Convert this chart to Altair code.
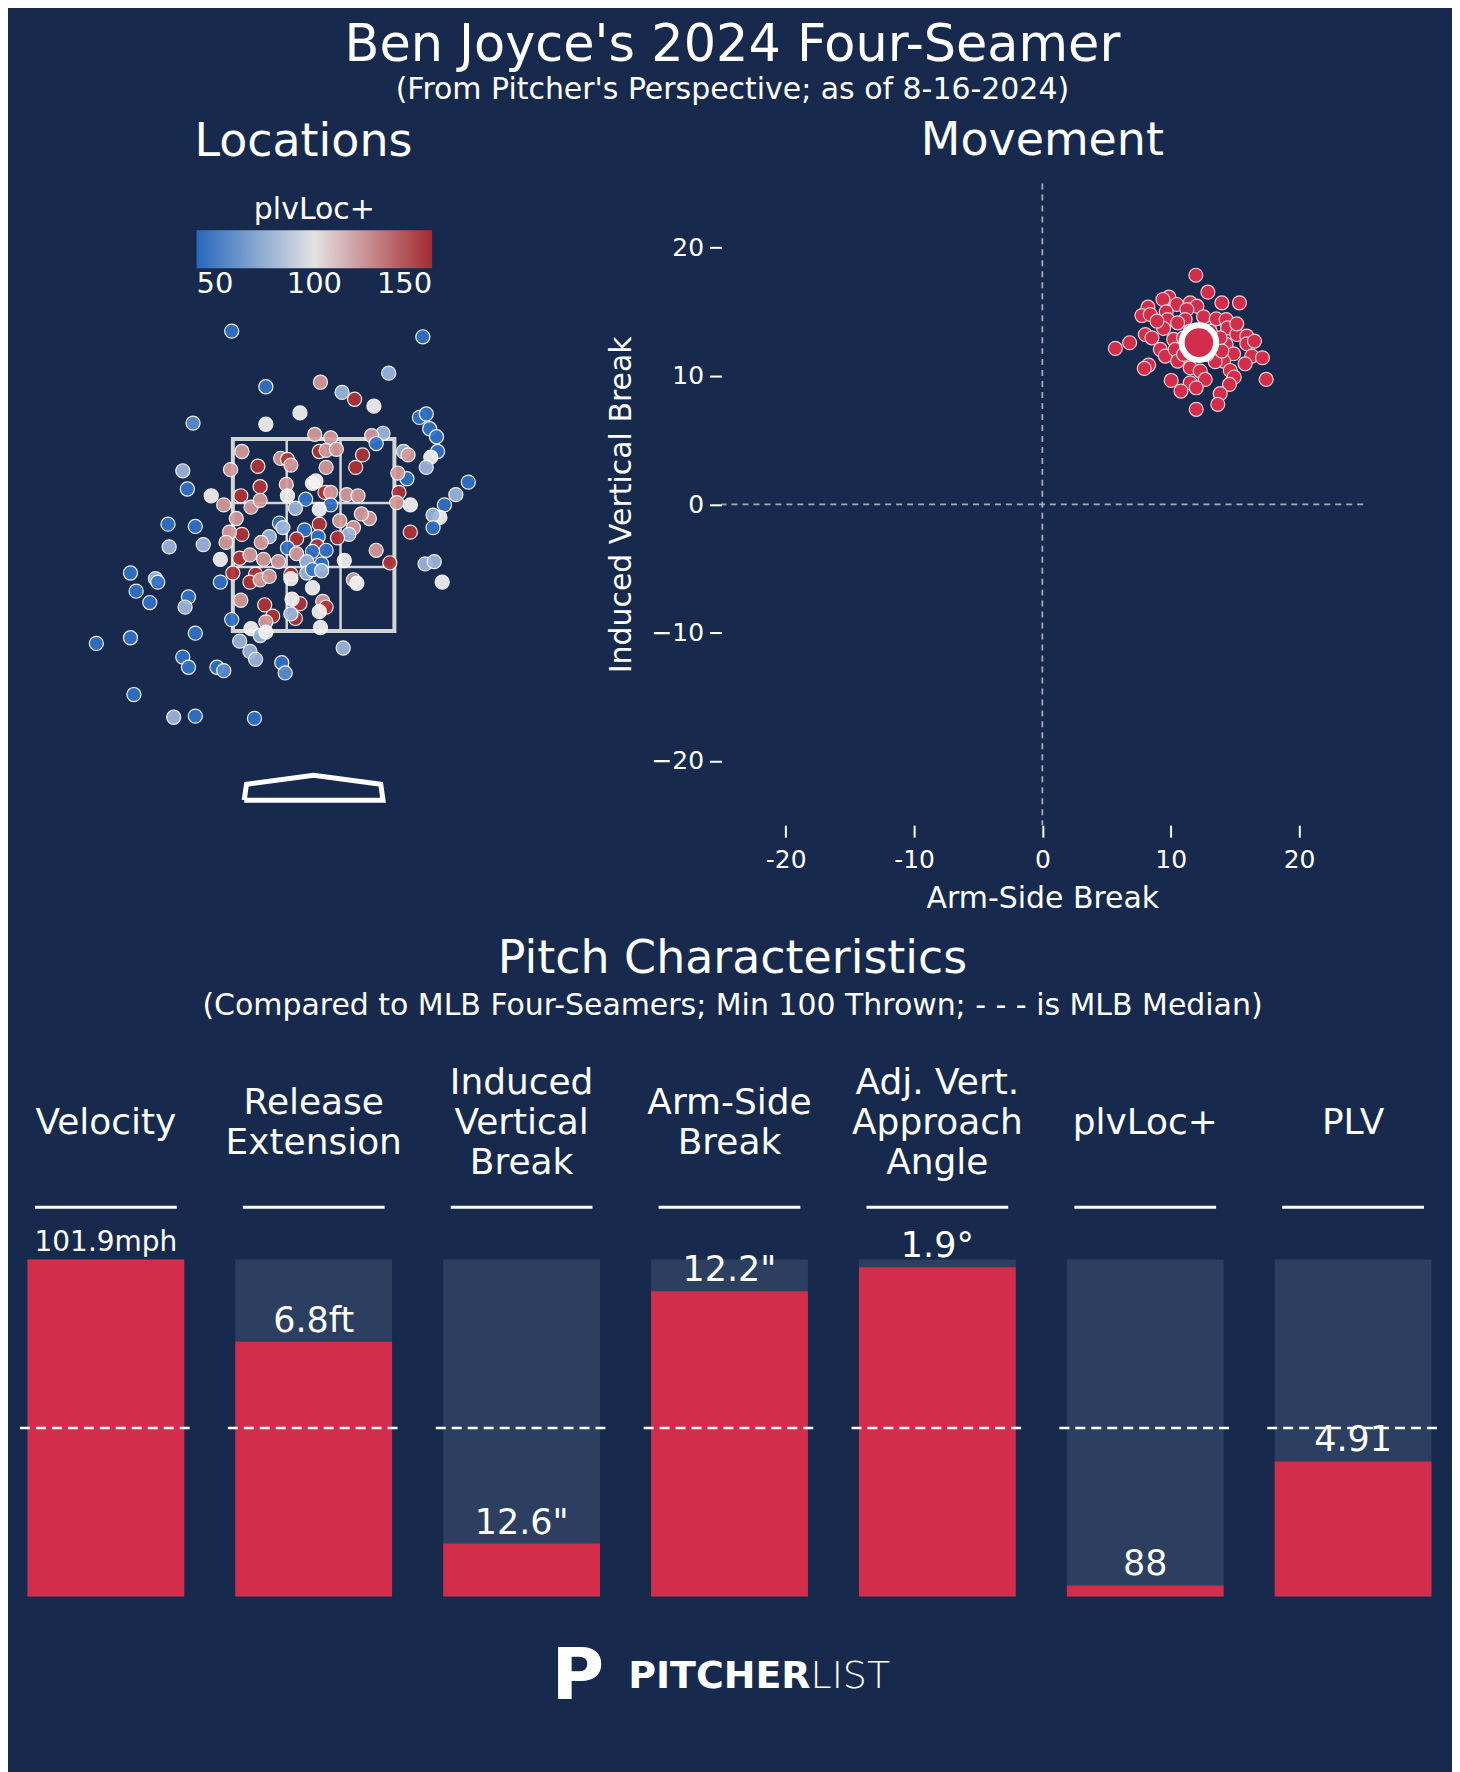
import altair as alt
import pandas as pd

BG = '#172a4e'
RED = '#d22e4b'
FONT = 'DejaVu Sans'

# --- Locations (plate_x, plate_z in ft, pitcher's view) and plvLoc+ ---
loc_x = [-0.72, 0.96, 0.66, -0.42, 0.06, 0.25, 0.36, 0.53, -0.12, -0.42, -1.06, 0.93, 0.99, 1.02, 1.08, 1.09,
         1.03, 0.99, 0.79, 0.83, 0.82, 0.74, 0.61, 0.51, 0.55, 0.01, 0.15, 0.05, 0.11, 0.20, 0.43, 0.37, 0.11,
         -0.63, -0.49, -0.73, -0.29, -0.23, -0.20, -0.47, -0.24, -0.01, 0.02, 0.10, 0.15, 0.29, 0.39, 0.75, 0.73,
         0.85, -0.07, 0.15, 0.05, -0.16, -0.23, -0.64, -0.55, -0.47, -0.79, -0.90, -1.15, -1.11, 1.36, 1.25, 1.15,
         1.11, 1.05, 1.05, 0.85, 0.49, 0.42, 0.23, 0.35, 0.31, 0.05, -0.08, 0.04, -0.15, -0.30, -0.27, -0.39,
         -0.46, -0.63, -0.68, -0.74, -0.77, -1.28, -1.04, -1.27, -0.97, 0.21, 0.03, 0.11, -0.01, -0.23, -0.15,
         -0.06, 0.07, 0.27, 0.55, 0.67, 0.98, 1.06, 1.13, 0.35, 0.38, -0.65, -0.82, -0.56, -0.44, -0.31, -0.71,
         -0.51, -0.56, -0.47, -0.39, -0.20, -0.20, -0.06, -0.01, 0.07, -0.01, -1.61, -1.39, -1.37, -1.56, -1.44,
         -1.10, -1.13, -0.82, -0.64, -0.43, -0.36, -0.12, -0.19, 0.08, 0.11, 0.05, -0.16, -0.20, -0.42, -0.72,
         -0.55, -0.47, -0.42, 0.06, -1.61, -1.04, -1.91, -0.65, 0.26, -0.56, -0.51, -1.15, -1.10, -0.85, -0.79,
         -0.28, -0.25, -1.58, -1.23, -1.04, -0.52]
loc_z = [4.45, 4.40, 4.08, 3.96, 4.00, 3.91, 3.85, 3.79, 3.73, 3.63, 3.64, 3.69, 3.72, 3.59, 3.52, 3.39,
         3.34, 3.25, 3.39, 3.36, 3.15, 3.20, 3.55, 3.53, 3.46, 3.54, 3.51, 3.39, 3.40, 3.41, 3.36, 3.25, 3.25,
         3.39, 3.26, 3.23, 3.33, 3.32, 3.27, 3.08, 3.10, 3.11, 3.13, 3.03, 3.03, 3.01, 3.00, 3.03, 2.94,
         2.92, 2.97, 2.92, 2.88, 2.89, 3.00, 3.00, 2.90, 2.96, 2.92, 3.00, 3.22, 3.06, 3.12, 3.01, 2.92,
         2.81, 2.83, 2.72, 2.68, 2.80, 2.84, 2.78, 2.72, 2.66, 2.75, 2.70, 2.64, 2.62, 2.76, 2.72, 2.64,
         2.59, 2.66, 2.80, 2.68, 2.59, 2.75, 2.73, 2.55, 2.57, 2.63, 2.56, 2.52, 2.51, 2.54, 2.49,
         2.42, 2.40, 2.43, 2.52, 2.41, 2.40, 2.42, 2.24, 2.26, 2.23, 2.45, 2.44, 2.48, 2.44, 2.42, 2.32,
         2.31, 2.24, 2.26, 2.29, 2.31, 2.27, 2.32, 2.35, 2.34, 2.19, 2.32, 2.27, 2.24, 2.16, 2.06,
         2.11, 2.02, 2.24, 2.08, 2.04, 1.94, 2.05, 2.09, 2.07, 2.02, 1.98, 1.92, 1.96, 1.89, 1.91,
         1.83, 1.77, 1.80, 1.84, 1.75, 1.79, 1.70, 1.72, 1.66, 1.63, 1.56, 1.58, 1.49, 1.49, 1.46,
         1.53, 1.44, 1.25, 1.05, 1.06, 1.04]
loc_code = 'BBLBPLRWWWbBBBBBWLLPBPLPBPPRPPRRPPRPPRPRPWWRPPPRPWBBWLWRPPPWLBBLBWLBRPPPPLRBBRBLLPRPPPBBLLRRBBBPLBWPRLLWPWRWPPPRRRPPRWLBLWBLBBBBLBPRRRWPRWRLPBWLWWBBBLLLLBBBbBbBLBB'
loc_levels = {'B': 52, 'b': 62, 'L': 78, 'W': 100, 'P': 122, 'R': 148}
plvloc = [loc_levels[c] for c in loc_code]

zone_left, zone_right, zone_bot, zone_top = -0.71, 0.71, 1.81, 3.5
plate_x = [-0.61, 0.61, 0.59, 0.0, -0.59, -0.61]
plate_z = [0.32, 0.32, 0.46, 0.54, 0.46, 0.32]

# --- Movement (inches) ---
hb = [11.96, 12.90, 13.99, 15.36, 9.86, 9.40, 8.23, 7.76, 8.41, 10.48, 11.52, 12.04, 9.65, 11.26, 12.56,
      13.55, 14.32, 9.76, 11.13, 10.54, 9.45, 14.43, 15.15, 15.93, 8.02, 8.54, 6.80, 5.69, 10.23, 9.19,
      9.58, 10.35, 15.93, 16.53, 14.32, 14.90, 16.32, 17.15, 15.80, 14.12, 13.47, 10.54, 8.28, 7.94, 11.52,
      12.30, 14.64, 14.95, 12.69, 10.04, 17.44, 11.52, 11.99, 14.58, 10.80, 13.86, 13.67, 11.99, 11.00,
      13.86, 13.99, 12.82, 11.00, 11.52, 13.08, 8.93, 15.15]
ivb = [17.85, 16.53, 15.70, 15.70, 16.14, 15.96, 15.36, 14.71, 14.79, 15.57, 15.70, 15.44, 15.00, 15.18,
       14.61, 14.45, 14.40, 14.40, 14.40, 14.14, 13.70, 13.75, 13.23, 13.10, 13.23, 12.97, 12.59, 12.15,
       12.85, 12.07, 11.55, 12.07, 12.51, 12.72, 12.46, 11.73, 11.55, 11.42, 10.95, 11.16, 11.11, 11.16,
       10.85, 10.59, 10.64, 10.38, 10.43, 9.91, 9.73, 9.65, 9.73, 9.47, 9.08, 9.34, 8.82, 8.62, 7.79, 7.40,
       12.97, 12.97, 11.94, 11.68, 11.68, 13.49, 13.49, 14.27, 14.06]
hb_mean, ivb_mean = 12.2, 12.6

# --- Pitch characteristics ---
metrics = ['Velocity', 'Release|Extension', 'Induced|Vertical|Break', 'Arm-Side|Break',
           'Adj. Vert.|Approach|Angle', 'plvLoc+', 'PLV']
pctl = [1.0, 0.756, 0.157, 0.906, 0.977, 0.033, 0.401]
value_labels = ['101.9mph', '6.8ft', '12.6"', '12.2"', '1.9°', '88', '4.91']
label_sizes = [28, 35, 35, 35, 35, 35, 35]

# ---------------- Locations panel ----------------
loc_df = pd.DataFrame({'x': loc_x, 'z': loc_z, 'plvLoc+': plvloc})
xs = alt.Scale(domain=[-2.59, 2.41], nice=False)
ys = alt.Scale(domain=[0.1, 5.75], nice=False)

zone_df = pd.DataFrame({'x': [zone_left], 'x2': [zone_right], 'z': [zone_bot], 'z2': [zone_top]})
third_w = (zone_right - zone_left) / 3
third_h = (zone_top - zone_bot) / 3
vlines = pd.DataFrame({'x': [zone_left + third_w, zone_left + 2 * third_w], 'z': [zone_bot] * 2, 'z2': [zone_top] * 2})
hlines = pd.DataFrame({'z': [zone_bot + third_h, zone_bot + 2 * third_h], 'x': [zone_left] * 2, 'x2': [zone_right] * 2})
plate_df = pd.DataFrame({'x': plate_x, 'z': plate_z, 'o': range(len(plate_x))})

zone = alt.Chart(zone_df).mark_rect(fill=None, stroke='#d4d4d4', strokeWidth=4).encode(
    x=alt.X('x:Q', scale=xs, axis=None), x2='x2', y=alt.Y('z:Q', scale=ys, axis=None), y2='z2')
vl = alt.Chart(vlines).mark_rule(color='#d4d4d4', strokeWidth=2.5).encode(
    x=alt.X('x:Q', scale=xs), y=alt.Y('z:Q', scale=ys), y2='z2')
hl = alt.Chart(hlines).mark_rule(color='#d4d4d4', strokeWidth=2.5).encode(
    x=alt.X('x:Q', scale=xs), x2='x2', y=alt.Y('z:Q', scale=ys))
plate = alt.Chart(plate_df).mark_line(color='white', strokeWidth=5).encode(
    x=alt.X('x:Q', scale=xs), y=alt.Y('z:Q', scale=ys), order='o:Q')
pts = alt.Chart(loc_df).mark_circle(size=200, opacity=0.92, stroke='white', strokeWidth=1.2).encode(
    x=alt.X('x:Q', scale=xs),
    y=alt.Y('z:Q', scale=ys),
    color=alt.Color('plvLoc+:Q',
                    scale=alt.Scale(domain=[50, 100, 150], range=['#2a6dc6', '#f5f2f1', '#b02a2e'],
                                    interpolate='rgb'),
                    legend=alt.Legend(orient='none', legendX=178, legendY=12, direction='horizontal',
                                      title='plvLoc+', titleColor='white', titleFontSize=30,
                                      titleFont=FONT, titleFontWeight='normal', titleAnchor='middle',
                                      gradientLength=236, gradientThickness=38, values=[50, 100, 150],
                                      labelFontSize=29, labelColor='white', labelFont=FONT)))
locations = alt.layer(zone, vl, hl, plate, pts).properties(
    width=570, height=643,
    title=alt.TitleParams('Locations', fontSize=46, color='white', font=FONT, fontWeight='normal', offset=18))

# ---------------- Movement panel ----------------
mv_df = pd.DataFrame({'hb': hb, 'ivb': ivb})
mean_df = pd.DataFrame({'hb': [hb_mean], 'ivb': [ivb_mean]})
mxs = alt.Scale(domain=[-25, 25], nice=False)
mys = alt.Scale(domain=[-25, 25], nice=False)
ax_common = dict(domain=False, grid=False, ticks=True, tickColor='white', tickSize=12, tickWidth=2,
                 labelColor='white', labelFontSize=25, labelFont=FONT, titleColor='white',
                 titleFontSize=30, titleFont=FONT, titleFontWeight='normal', values=[-20, -10, 0, 10, 20])
zero_df = pd.DataFrame({'v': [0]})
hz = alt.Chart(zero_df).mark_rule(color='#a3abb9', strokeDash=[6, 5], strokeWidth=1.8).encode(
    y=alt.Y('v:Q', scale=mys))
vz = alt.Chart(zero_df).mark_rule(color='#a3abb9', strokeDash=[6, 5], strokeWidth=1.8).encode(
    x=alt.X('v:Q', scale=mxs))
mv_pts = alt.Chart(mv_df).mark_circle(size=195, color=RED, opacity=1, stroke='#f0d0d5', strokeWidth=1.2).encode(
    x=alt.X('hb:Q', scale=mxs, title='Arm-Side Break',
            axis=alt.Axis(**ax_common, titlePadding=12, labelPadding=10, labelExpr='toString(datum.value)')),
    y=alt.Y('ivb:Q', scale=mys, title='Induced Vertical Break',
            axis=alt.Axis(**ax_common, titlePadding=14, labelPadding=6)))
mv_mean = alt.Chart(mean_df).mark_circle(size=1200, color=RED, opacity=1, stroke='white', strokeWidth=6).encode(
    x=alt.X('hb:Q', scale=mxs), y=alt.Y('ivb:Q', scale=mys))
movement = alt.layer(hz, vz, mv_pts, mv_mean).properties(
    width=643, height=643,
    title=alt.TitleParams('Movement', fontSize=46, color='white', font=FONT, fontWeight='normal', offset=18))

top = alt.hconcat(locations, movement, spacing=19)

# ---------------- Pitch characteristics ----------------
bar_df = pd.DataFrame({'i': range(len(metrics)), 'metric': metrics, 'pctl': pctl,
                       'label': value_labels, 'lsize': label_sizes, 'full': 1.0, 'zero': 0.0,
                       'med': 0.5, 'head': 1.155, 'hdr': 1.405})
bx = alt.Scale(domain=[-0.418, 6.447], nice=False)
by = alt.Scale(domain=[-0.32, 1.62], nice=False)
base = alt.Chart(bar_df)
bg_bar = base.mark_rect(color='#2c3f61').transform_calculate(a='datum.i - 0.377', b='datum.i + 0.377').encode(
    x=alt.X('a:Q', scale=bx, axis=None), x2='b:Q', y=alt.Y('zero:Q', scale=by, axis=None), y2='full:Q')
fg_bar = base.mark_rect(color=RED).transform_calculate(a='datum.i - 0.377', b='datum.i + 0.377').encode(
    x=alt.X('a:Q', scale=bx), x2='b:Q', y=alt.Y('zero:Q', scale=by), y2='pctl:Q')
med = base.mark_rule(color='white', strokeDash=[10, 6], strokeWidth=2.5).transform_calculate(
    a='datum.i - 0.413', b='datum.i + 0.413').encode(
    x=alt.X('a:Q', scale=bx), x2='b:Q', y=alt.Y('med:Q', scale=by))
head = base.mark_rule(color='white', strokeWidth=3).transform_calculate(
    a='datum.i - 0.341', b='datum.i + 0.341').encode(
    x=alt.X('a:Q', scale=bx), x2='b:Q', y=alt.Y('head:Q', scale=by))
# centre multi-line headers on the same height
hdr = base.mark_text(color='white', fontSize=36, font=FONT, lineBreak='|', baseline='middle',
                     lineHeight=40).transform_calculate(
    hy="datum.hdr + (length(split(datum.metric, '|')) - 1) * 0.0593").encode(
    x=alt.X('i:Q', scale=bx), y=alt.Y('hy:Q', scale=by), text='metric:N')
vals = base.mark_text(color='white', font=FONT, baseline='bottom', dy=-3).encode(
    x=alt.X('i:Q', scale=bx), y=alt.Y('pctl:Q', scale=by), text='label:N',
    size=alt.Size('lsize:Q', scale=None, legend=None))

logo_df = pd.DataFrame({'pos': [2.27, 3.39, 3.39], 'y': [-0.24, -0.24, -0.24],
                        'txt': ['P', 'PITCHER', 'LIST']})
logo_p = alt.Chart(logo_df.iloc[[0]]).mark_text(color='white', font=FONT, fontWeight='bold', fontSize=72,
                                                baseline='middle').encode(
    x=alt.X('pos:Q', scale=bx), y=alt.Y('y:Q', scale=by), text='txt:N')
logo_a = alt.Chart(logo_df.iloc[[1]]).mark_text(color='white', font=FONT, fontWeight='bold', fontSize=38,
                                                align='right', baseline='middle').encode(
    x=alt.X('pos:Q', scale=bx), y=alt.Y('y:Q', scale=by), text='txt:N')
logo_b = alt.Chart(logo_df.iloc[[2]]).mark_text(color='white', font=FONT, fontWeight=200, fontSize=38,
                                                align='left', baseline='middle').encode(
    x=alt.X('pos:Q', scale=bx), y=alt.Y('y:Q', scale=by), text='txt:N')

bars = alt.layer(bg_bar, fg_bar, med, head, hdr, vals, logo_p, logo_a, logo_b).properties(
    width=1430, height=655,
    title=alt.TitleParams('Pitch Characteristics',
                          subtitle="(Compared to MLB Four-Seamers; Min 100 Thrown; - - - is MLB Median)",
                          fontSize=46, subtitleFontSize=30, color='white', subtitleColor='white',
                          font=FONT, subtitleFont=FONT, fontWeight='normal', anchor='middle', offset=29,
                          subtitlePadding=8))

chart = alt.vconcat(top, bars, spacing=22).properties(
    background=BG, padding={'left': 10, 'right': 6, 'top': 10, 'bottom': 60},
    title=alt.TitleParams("Ben Joyce's 2024 Four-Seamer",
                          subtitle="(From Pitcher's Perspective; as of 8-16-2024)",
                          fontSize=51, subtitleFontSize=30, color='white', subtitleColor='white',
                          font=FONT, subtitleFont=FONT, fontWeight='normal', anchor='middle', offset=12)
).configure_view(stroke=None).configure_concat(spacing=12)

chart.save("out.html", embed_options={"renderer": "svg", "actions": False})
